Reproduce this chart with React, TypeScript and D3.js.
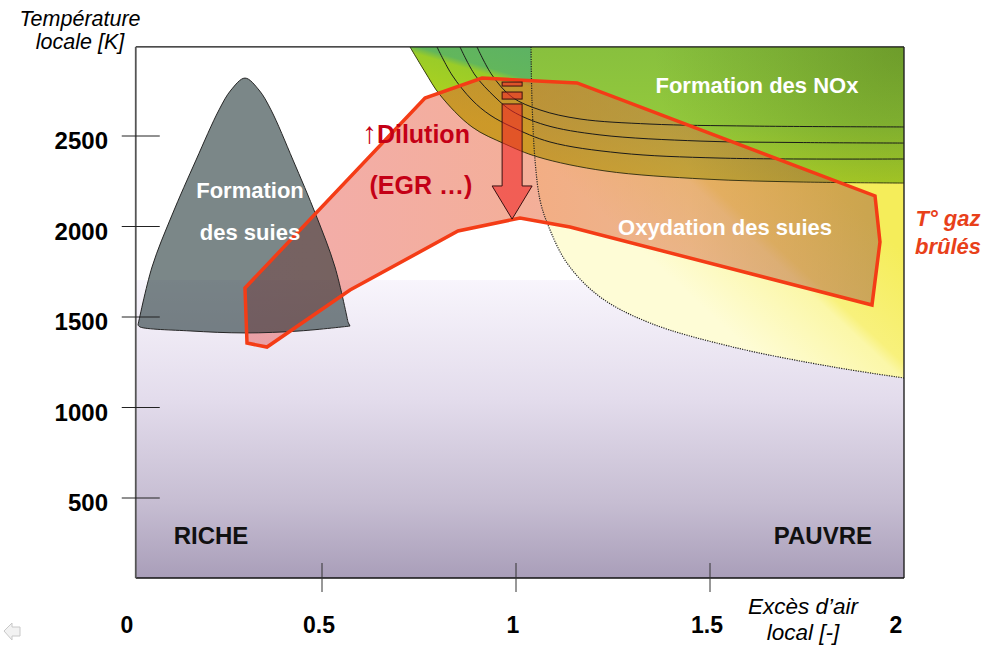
import React from "react";
import * as d3 from "d3";

type P = [number, number];

// ---------- axes ----------
const X_DOMAIN: P = [0, 2];
const T_REF: P = [500, 2500];
const FRAME_X: P = [0.02, 2];
const FRAME_T: P = [58, 2992];
const BG_SPLIT_T = 1704;

const yTickValues = [500, 1000, 1500, 2000, 2500];
const yTickLabels = ["500", "1000", "1500", "2000", "2500"];
const xTickValues = [0.5, 1, 1.5];
const xLabelValues = [0, 0.5, 1, 1.5, 2];
const xLabelTexts = ["0", "0.5", "1", "1.5", "2"];

// ---------- regions (excess air [-], temperature [K]) ----------
const sootDome: P[] = [
  [0.0258, 1456], [0.0619, 1776], [0.1134, 2063], [0.1753, 2367], [0.2345, 2644],
  [0.2655, 2754], [0.3015, 2820], [0.3376, 2754], [0.3686, 2644], [0.4253, 2367],
  [0.4845, 2063], [0.5335, 1776], [0.567, 1472],
];
const sootBase: P[] = [
  [0.5722, 1450], [0.4433, 1423], [0.3015, 1412], [0.1598, 1423], [0.031, 1445], [0.0258, 1456],
];

const noxBoundary: P[] = [
  [0.7268, 2992], [0.7655, 2854], [0.804, 2727], [0.8866, 2550], [0.9716, 2456],
  [1.0567, 2384], [1.2294, 2307], [1.4871, 2262], [1.732, 2246], [2.0, 2240],
];
const noxIsoA: P[] = [
  [0.7964, 2992], [0.8351, 2837], [0.8866, 2699], [0.933, 2616], [0.9897, 2550],
  [1.0876, 2467], [1.268, 2406], [1.5258, 2378], [2.0, 2373],
];
const noxIsoB: P[] = [
  [0.8557, 2992], [0.8943, 2837], [0.9459, 2715], [0.9897, 2638], [1.0747, 2561],
  [1.2165, 2506], [1.4742, 2472], [1.732, 2464], [2.0, 2461],
];
const noxIsoC: P[] = [
  [0.8995, 2992], [0.9381, 2837], [0.9897, 2715], [1.0619, 2644], [1.1649, 2594],
  [1.3454, 2566], [1.6031, 2555], [2.0, 2550],
];

const sootOxLimit: P[] = [
  [1.0387, 2992], [1.0412, 2699], [1.049, 2367], [1.0619, 2146], [1.0825, 2008],
  [1.1314, 1798], [1.2165, 1611], [1.3454, 1467], [1.5593, 1334], [1.817, 1224], [2.0, 1163],
];

const burntGas: P[] = [
  [0.3067, 1356], [0.3015, 1660], [0.7655, 2710], [0.9124, 2820], [1.1572, 2793],
  [1.9253, 2169], [1.9381, 1914], [1.9175, 1566], [1.1392, 1997], [1.0103, 2047],
  [0.8505, 1975], [0.5722, 1649], [0.3582, 1334],
];

// dilution arrow (excess air, temperatures)
const arrowX = 0.99;
const arrowBars: P[] = [[2798, 2776], [2743, 2704]];
const arrowShaft: P = [2677, 2224];
const arrowTip = 2041;

const FONT = "'Liberation Sans', Arial, Helvetica, sans-serif";

export default function App() {
  const x = d3.scaleLinear().domain(X_DOMAIN).range([128, 904]);
  const y = d3.scaleLinear().domain(T_REF).range([498, 136]);
  const cr = d3
    .line<P>()
    .x((d) => x(d[0]))
    .y((d) => y(d[1]))
    .curve(d3.curveCatmullRom.alpha(0.5));
  const lin = d3
    .line<P>()
    .x((d) => x(d[0]))
    .y((d) => y(d[1]));

  const fx0 = x(FRAME_X[0]);
  const fx1 = x(FRAME_X[1]);
  const fy0 = y(FRAME_T[1]);
  const fy1 = y(FRAME_T[0]);
  const ySplit = y(BG_SPLIT_T);

  const sootPath = (cr(sootDome) as string) + (cr(sootBase) as string).replace(/^M/, "L") + "Z";
  const greenPath = (cr(noxBoundary) as string) + `L${fx1},${fy0}Z`;
  const yellowPath = (cr(sootOxLimit) as string) + `L${fx1},${fy0}Z`;
  const leftOfLimit =
    (cr(sootOxLimit) as string) + `L${fx1},${fy1}L${fx0},${fy1}L${fx0},${fy0}Z`;
  const gasPath = (lin(burntGas) as string) + "Z";

  const ax = x(arrowX);
  const sw = 10;
  const hw = 20;
  const arrowPath =
    `M${ax - sw},${y(arrowShaft[0])}L${ax + sw},${y(arrowShaft[0])}L${ax + sw},${y(arrowShaft[1])}` +
    `L${ax + hw},${y(arrowShaft[1])}L${ax},${y(arrowTip)}L${ax - hw},${y(arrowShaft[1])}` +
    `L${ax - sw},${y(arrowShaft[1])}Z`;

  return (
    <svg
      width={985}
      height={646}
      viewBox="0 0 985 646"
      style={{ position: "absolute", left: 0, top: 0, display: "block", background: "#fff" }}
      fontFamily={FONT}
    >
      <defs>
        <clipPath id="frame">
          <rect x={fx0} y={fy0} width={fx1 - fx0} height={fy1 - fy0} />
        </clipPath>
        <clipPath id="leftLimit">
          <path d={leftOfLimit} />
        </clipPath>
        <linearGradient id="bgGrad" gradientUnits="userSpaceOnUse" x1={0} y1={ySplit} x2={0} y2={fy1}>
          <stop offset="0" stopColor="#f8f5fc" />
          <stop offset="0.4" stopColor="#e3dcec" />
          <stop offset="0.75" stopColor="#c6bdd2" />
          <stop offset="1" stopColor="#a99eb9" />
        </linearGradient>
        <linearGradient id="yellowGrad" gradientUnits="userSpaceOnUse" x1={700} y1={305} x2={820} y2={175}>
          <stop offset="0" stopColor="#fefcd6" />
          <stop offset="0.47" stopColor="#fbf7a8" />
          <stop offset="0.54" stopColor="#f8f17c" />
          <stop offset="1" stopColor="#f5ed5a" />
        </linearGradient>
        <linearGradient id="greenGrad" gradientUnits="userSpaceOnUse" x1={0} y1={fy0} x2={0} y2={y(2240)}>
          <stop offset="0" stopColor="#88c03e" />
          <stop offset="0.55" stopColor="#93c93c" />
          <stop offset="1" stopColor="#b4d72a" />
        </linearGradient>
        <radialGradient id="greenDark" gradientUnits="userSpaceOnUse" cx={fx1} cy={fy0} r={250}>
          <stop offset="0" stopColor="#3c5a08" stopOpacity="0.35" />
          <stop offset="1" stopColor="#3c5a08" stopOpacity="0" />
        </radialGradient>
        <linearGradient id="greenLeft" gradientUnits="userSpaceOnUse" x1={480} y1={30} x2={455} y2={115}>
          <stop offset="0" stopColor="#5db264" />
          <stop offset="0.38" stopColor="#62b65c" />
          <stop offset="0.46" stopColor="#9acc28" />
          <stop offset="1" stopColor="#b2d41c" />
        </linearGradient>
        <linearGradient id="gasGrad" gradientUnits="userSpaceOnUse" x1={245} y1={0} x2={880} y2={0}>
          <stop offset="0" stopColor="rgb(228,72,72)" stopOpacity="0.45" />
          <stop offset="0.45" stopColor="rgb(232,95,50)" stopOpacity="0.5" />
          <stop offset="0.7" stopColor="rgb(215,110,70)" stopOpacity="0.5" />
          <stop offset="1" stopColor="rgb(165,105,70)" stopOpacity="0.55" />
        </linearGradient>
      </defs>

      {/* plot background */}
      <rect x={fx0} y={fy0} width={fx1 - fx0} height={fy1 - fy0} fill="#ffffff" />
      <rect x={fx0} y={ySplit} width={fx1 - fx0} height={fy1 - ySplit} fill="url(#bgGrad)" />

      <g clipPath="url(#frame)">
        {/* soot oxidation region */}
        <path d={yellowPath} fill="url(#yellowGrad)" />
        {/* NOx formation region */}
        <path d={greenPath} fill="url(#greenGrad)" />
        <path d={greenPath} fill="url(#greenDark)" />
        <g clipPath="url(#leftLimit)">
          <path d={greenPath} fill="url(#greenLeft)" />
        </g>
        {/* burnt gas temperature band */}
        <path d={gasPath} fill="url(#gasGrad)" />
        {/* soot formation */}
        <path d={sootPath} fill="rgb(14,36,38)" fillOpacity={0.55} stroke="#262626" strokeWidth={1} />
        {/* NOx iso-lines */}
        {[noxIsoA, noxIsoB, noxIsoC].map((c, i) => (
          <path key={i} d={cr(c) as string} fill="none" stroke="#1a1a1a" strokeWidth={1} />
        ))}
        <path d={cr(noxBoundary) as string} fill="none" stroke="#2a2a10" strokeWidth={0.9} />
        {/* soot oxidation limit */}
        <path d={cr(sootOxLimit) as string} fill="none" stroke="#222" strokeWidth={1.2} strokeDasharray="1.2 1.2" />
        {/* burnt gas outline */}
        <path d={gasPath} fill="none" stroke="#f43c16" strokeWidth={3.5} strokeLinejoin="miter" />
        {/* dilution arrow */}
        {arrowBars.map((b, i) => (
          <rect
            key={i}
            x={ax - sw}
            y={y(b[0])}
            width={2 * sw}
            height={y(b[1]) - y(b[0])}
            fill="rgb(240,40,40)"
            fillOpacity={0.6}
            stroke="#3a1010"
            strokeWidth={1}
          />
        ))}
        <path d={arrowPath} fill="rgb(240,40,40)" fillOpacity={0.6} stroke="#3a1010" strokeWidth={1} />
      </g>

      {/* frame */}
      <line x1={fx0} y1={fy0} x2={fx1} y2={fy0} stroke="#111" strokeWidth={1.2} />
      <line x1={fx1} y1={fy0} x2={fx1} y2={fy1} stroke="#222" strokeWidth={1.4} />
      <line x1={fx0} y1={fy1} x2={fx1} y2={fy1} stroke="#111" strokeWidth={1.5} />
      <line x1={fx0} y1={fy0} x2={fx0} y2={fy1} stroke="#555" strokeWidth={1.8} />

      {/* y ticks */}
      {yTickValues.map((t, i) => (
        <g key={t}>
          <line x1={fx0 - 14} x2={fx0 + 24} y1={y(t)} y2={y(t)} stroke="#222" strokeWidth={1} />
          <text x={108} y={y(t) + 13} textAnchor="end" fontSize={24} fontWeight="bold" fill="#000">
            {yTickLabels[i]}
          </text>
        </g>
      ))}
      {/* x ticks */}
      {xTickValues.map((v) => (
        <line key={v} x1={x(v)} x2={x(v)} y1={fy1 - 15} y2={fy1 + 14} stroke="#333" strokeWidth={1} />
      ))}
      {xLabelValues.map((v, i) => (
        <text key={v} x={x(v) - (i === 0 ? 1 : i === 4 ? 8 : 3)} y={633} textAnchor="middle" fontSize={23} fontWeight="bold" fill="#000">
          {xLabelTexts[i]}
        </text>
      ))}

      {/* axis titles */}
      <text x={80} y={26} textAnchor="middle" fontSize={21.5} fontStyle="italic" fill="#000">
        Température
      </text>
      <text x={80} y={49} textAnchor="middle" fontSize={21.5} fontStyle="italic" fill="#000">
        locale [K]
      </text>
      <text x={803} y={614} textAnchor="middle" fontSize={22.5} fontStyle="italic" fill="#000">
        Excès d’air
      </text>
      <text x={803} y={640} textAnchor="middle" fontSize={22.5} fontStyle="italic" fill="#000">
        local [-]
      </text>

      {/* region labels */}
      <g fill="#ffffff" fontWeight="bold" fontSize={22} textAnchor="middle">
        <text x={x(0.3144)} y={198}>Formation</text>
        <text x={x(0.3144)} y={240}>des suies</text>
        <text x={x(1.621)} y={93}>Formation des NOx</text>
        <text x={x(1.5387)} y={235}>Oxydation des suies</text>
      </g>
      <text x={x(0.742)} y={143} textAnchor="middle" fontSize={25} fontWeight="bold" fill="#c40016">
        <tspan fontWeight="normal" fontSize={30}>↑</tspan>Dilution
      </text>
      <text x={x(0.755)} y={194} textAnchor="middle" fontSize={25} fontWeight="bold" fill="#c40016">
        (EGR …)
      </text>
      <text x={948} y={226} textAnchor="middle" fontSize={22} fontWeight="bold" fontStyle="italic" fill="#e8401a">
        T° gaz
      </text>
      <text x={948} y={254} textAnchor="middle" fontSize={22} fontWeight="bold" fontStyle="italic" fill="#e8401a">
        brûlés
      </text>
      <text x={x(0.214)} y={544} textAnchor="middle" fontSize={24} fontWeight="bold" fill="#111">
        RICHE
      </text>
      <text x={x(1.791)} y={544} textAnchor="middle" fontSize={24} fontWeight="bold" fill="#111">
        PAUVRE
      </text>

      {/* slide navigation icon */}
      <path d="M4,631 L12,623 L12,627 L20,627 L20,636 L12,636 L12,640 Z" fill="#f2f2f2" stroke="#c8c8c8" strokeWidth={1} />
    </svg>
  );
}
